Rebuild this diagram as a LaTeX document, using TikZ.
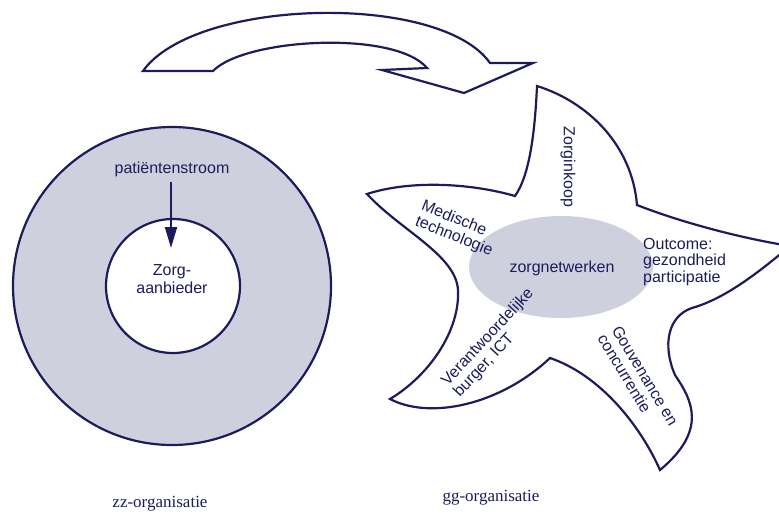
\documentclass[tikz,border=0pt]{standalone}
\usepackage{fontspec}
\setmainfont{Liberation Sans}
\newfontfamily\serifl{Liberation Serif}
\usetikzlibrary{arrows.meta,shapes.geometric}
\definecolor{navy}{RGB}{28,28,92}
\definecolor{lav}{RGB}{207,208,222}
\begin{document}
\begin{tikzpicture}[x=1pt,y=-1pt,
  outline/.style={draw=navy,line width=2.2pt,line join=miter},
  lbl/.style={text=navy,font=\fontsize{16}{16.5}\selectfont,inner sep=0pt,align=left},
  ctr/.style={text=navy,font=\fontsize{16}{18}\selectfont,inner sep=0pt,align=center},
  caplbl/.style={text=navy,font=\serifl\fontsize{17}{20}\selectfont,inner sep=0pt}]
\useasboundingbox (0,0) rectangle (779,514);
\clip (0,0) rectangle (779,514);

% left: zz-organisatie
\node[circle,outline,fill=lav,minimum size=318pt,inner sep=0pt] (outer) at (172,286) {};
\node[circle,outline,fill=white,minimum size=134pt,inner sep=0pt,ctr] (inner) at (173,286) {};
\node[ctr] (zorg) at (172,279) {Zorg-\\aanbieder};
\node[ctr] (pt) at (172,169) {patiëntenstroom};
\coordinate (tip) at (171,248);
\draw[navy,line width=2pt,shorten <=5pt,-{Triangle[width=12pt,length=21pt]}] (pt.south -| tip) -- (tip);

% curved arrow
\draw[outline,fill=white] (143,71) .. controls (195,-2) and (440,-8) .. (490,63)
  -- (533,63) -- (464,93) -- (382,70) -- (427,68)
  .. controls (395,30) and (245,38) .. (213,71) -- cycle;

% star
\draw[outline,fill=white] (537,86)
  .. controls (588,102) and (632,145) .. (637,205)
  .. controls (680,222) and (740,238) .. (790,246)
  .. controls (750,280) and (720,300) .. (692,308)
  .. controls (668,316) and (662,345) .. (675,375)
  .. controls (692,400) and (708,430) .. (660,470)
  .. controls (640,425) and (600,375) .. (550,358)
  .. controls (500,405) and (430,420) .. (390,399)
  .. controls (430,375) and (460,330) .. (458,290)
  .. controls (456,255) and (400,230) .. (367,194)
  .. controls (410,180) and (470,183) .. (515,196)
  .. controls (530,175) and (535,130) .. (537,86) -- cycle;

\node[ellipse,fill=lav,minimum width=184pt,minimum height=102pt,inner sep=0pt,ctr] (net) at (561,267) {};
\node[ctr] (netlbl) at (562,268) {zorgnetwerken};

\node[lbl,rotate=-90] (inkoop) at (568,167) {Zorginkoop};
\node[lbl,rotate=-22] (medtech) at (457,229) {Medische\\technologie};
\node[lbl,anchor=west] (outcome) at (643,262) {Outcome:\\gezondheid\\participatie};
\node[lbl,rotate=-59] (gouv) at (638,380) {Gouvenance  en\\concurrentie};
\node[lbl,rotate=47] (verant) at (494,343) {Verantwoordelijke\\burger, ICT};

\node[caplbl] (zz) at (160,504) {zz-organisatie};
\node[caplbl] (gg) at (491,498) {gg-organisatie};
\end{tikzpicture}
\end{document}
